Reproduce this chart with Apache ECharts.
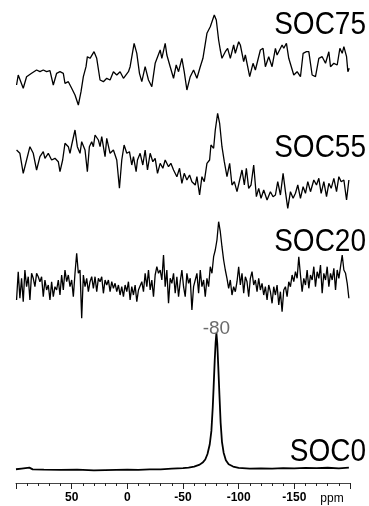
<!DOCTYPE html>
<html>
<head>
<meta charset="utf-8">
<script src="https://cdn.jsdelivr.net/npm/echarts@6/dist/echarts.min.js"></script>
<style>
  html, body { margin: 0; padding: 0; background: #fff; }
  #chart { width: 369px; height: 506px; }
</style>
</head>
<body>
<div id="chart"></div>
<script>
// spectra: [ppm, intensity (a.u.)]
const soc75 = [[99.5,25],[98,35],[93.5,21.7],[90.5,33.3],[86,36.7],[81.5,40],[78.5,38.3],[75.5,40],[72.5,38.3],[69.5,39.3],
  [66.5,25],[63.5,36.7],[60.5,38.3],[57.5,36.7],[56,26.7],[53,28.3],[50,21.7],[47,15],[44,5],[41.6,18.3],
  [39.5,33.3],[37.1,43.3],[35.9,53.3],[33.5,51.7],[29.9,58.3],[27.5,51.7],[24.5,30],[21.5,28.3],[18.5,31.7],[15.5,30],
  [12.5,38.3],[9.5,35],[6.5,38.3],[3.5,31.7],[-1,38.3],[-2.5,43.3],[-6.1,66.7],[-8.5,56.7],[-10.9,36.7],[-13,28.3],
  [-16,43.3],[-19,30],[-22,23.3],[-25,46.7],[-29.5,60],[-31,51.7],[-34,66.7],[-35.5,55],[-38.5,43.3],[-41.5,31.7],
  [-43.9,45],[-46,38.3],[-49,51.7],[-51.1,38.3],[-53.5,20],[-56.5,33.3],[-59.5,40],[-62.5,31.7],[-65.5,43.3],[-67.9,51.7],
  [-69.1,50],[-71.5,76.7],[-74.5,83.3],[-78.1,95],[-79.9,90],[-82,70],[-83.5,60],[-85,51.7],[-88,58.3],[-90.1,61.7],
  [-92.5,51.7],[-95.5,65],[-97,56.7],[-100,68.3],[-101.5,65],[-104.5,48.3],[-106,55],[-108.1,43.3],[-109.9,33.3],[-112.9,46.7],
  [-115,40],[-119.5,60],[-121.9,61.7],[-124,43.3],[-127,53.3],[-130,43.3],[-133,61.7],[-134.5,55],[-139,65],[-140.5,61.7],
  [-142.9,66.7],[-145,51.7],[-149.5,35],[-152.5,38.3],[-155.5,33.3],[-157.9,56.7],[-160.9,58.3],[-163,58.3],[-166,35],[-169,33.3],
  [-172,51.7],[-175,53.3],[-178,46.7],[-181,58.3],[-182.5,43.3],[-185.5,46.7],[-188.5,45],[-190.9,61.7],[-193,56.7],[-194.5,63.3],
  [-196.9,53.3],[-198.1,38.3],[-199.3,41.7]];

const soc55 = [[99.5,70],[96.5,66.7],[93.5,46.7],[90.5,60],[87.5,73.3],[84.5,66.7],[81.5,50],[78.5,63.3],[75.5,68.3],[74,61.7],
  [71,66.7],[68,60],[65,61.7],[62,58.3],[60.5,48.3],[58.1,60],[56,76.7],[53,73.3],[51.5,66.7],[50,75],
  [47,90],[44.9,73.3],[42.5,66.7],[41,78.3],[38,70],[35.9,48.3],[34.1,73.3],[32,78.3],[30.5,73.3],[29,85],
  [26,80],[24.5,73.3],[23,83.3],[20,63.3],[18.5,81.7],[15.5,66.7],[12.5,70],[9.5,60],[7.1,31.7],[5,60],
  [2.9,75],[0.5,66.7],[-1.9,68.3],[-4,55],[-5.5,63.3],[-7.9,48.3],[-9.1,60],[-11.5,66.7],[-13.9,55],[-16,70],
  [-18.1,50],[-20.5,66.7],[-22.9,58.3],[-25,61.7],[-27.1,46.7],[-29.5,56.7],[-31.9,51.7],[-34,60],[-37,53.3],[-39.1,56.7],
  [-41.5,50],[-44.5,43.3],[-46.9,51.7],[-49,36.7],[-51.1,46.7],[-53.5,40],[-55.9,45],[-58,38.3],[-61,35],[-62.5,43.3],
  [-64.9,25],[-67,43.3],[-69.1,38.3],[-71.5,56.7],[-73.9,60],[-75.1,75],[-77.5,71.7],[-79,90],[-81.1,106.7],[-82.9,96.7],
  [-85,73.3],[-87.1,58.3],[-89.5,43.3],[-91.9,56.7],[-94,35],[-96.1,38.3],[-98.5,28.3],[-100.9,40],[-103,50],[-105.1,35],
  [-106.9,51.7],[-109,31.7],[-111.1,35],[-113.5,55],[-115.9,23.3],[-118,31.7],[-120.1,21.7],[-122.5,30],[-125.5,20],[-128.5,28.3],
  [-130.9,23.3],[-133,25],[-135.1,38.3],[-137.5,25],[-139.9,46.7],[-142,28.3],[-144.1,11.7],[-146.5,28.3],[-148.9,21.7],[-151,26.7],
  [-153.1,35],[-155.5,21.7],[-157.9,33.3],[-160,26.7],[-162.1,38.3],[-164.5,28.3],[-167.5,40],[-169.9,35],[-172,41.7],[-174.1,26.7],
  [-176.5,38.3],[-178.9,23.3],[-181,36.7],[-183.1,31.7],[-185.5,41.7],[-187.9,28.3],[-190,43.3],[-192.1,38.3],[-194.5,40],[-196.9,20],
  [-199,40]];

const soc20 = [[99.5,30],[98,58.3],[96.5,31.7],[95,51.7],[93.5,28.3],[92,60],[90.5,43.3],[89,53.3],[87.5,30],[86,56.7],
  [84.5,51.7],[83,43.3],[81.5,56.7],[80,53.3],[78.5,48.3],[77,53.3],[75.5,33.3],[74,50],[72.5,40],[71,45],
  [69.5,30],[68,48.3],[66.5,33.3],[65,43.3],[63.5,40],[62,50],[60.5,35],[59,55],[57.5,40],[56,60],
  [54.5,48.3],[53,55],[51.5,43.3],[50,50],[48.5,33.3],[47,56.7],[45.5,76.7],[44,56.7],[42.5,60],[41,11.7],
  [39.5,55],[38,43.3],[36.5,51.7],[35,38.3],[33.5,48.3],[32,53.3],[30.5,41.7],[29,53.3],[27.5,38.3],[26,51.7],
  [24.5,48.3],[23,53.3],[21.5,36.7],[20,50],[18.5,45],[17,50],[15.5,38.3],[14,48.3],[12.5,41.7],[11,46.7],
  [9.5,38.3],[8,45],[6.5,35],[5,43.3],[3.5,33.3],[2,45],[0.5,38.3],[-1,48.3],[-2.5,30],[-4,43.3],
  [-5.5,35],[-7,45],[-8.5,28.3],[-10,40],[-11.5,38.3],[-13,48.3],[-14.5,38.3],[-16,56.7],[-17.5,43.3],[-19,60],
  [-20.5,40],[-22,50],[-23.5,33.3],[-25,55],[-26.5,63.3],[-28,56.7],[-29.5,60],[-31,50],[-32.5,75],[-34,43.3],
  [-35.5,60],[-37,26.7],[-38.5,51.7],[-40,46.7],[-41.5,56.7],[-43,36.7],[-44.5,53.3],[-46,33.3],[-47.5,48.3],[-49,60],
  [-50.5,43.3],[-52,33.3],[-53.5,56.7],[-55,46.7],[-56.5,51.7],[-58,20],[-59.5,43.3],[-61,50],[-62.5,56.7],[-64,36.7],
  [-65.5,60],[-67,43.3],[-68.5,50],[-70,33.3],[-71.5,51.7],[-73,43.3],[-74.5,63.3],[-76,56.7],[-77.5,73.3],[-79,80],
  [-80.5,90],[-82,108.3],[-83.5,98.3],[-85,83.3],[-86.5,70],[-88,60],[-89.5,51.7],[-91,41.7],[-92.5,50],[-94,35],
  [-95.5,43.3],[-97,38.3],[-98.5,48.3],[-100,63.3],[-101.5,45],[-103,56.7],[-104.5,36.7],[-106,53.3],[-107.5,48.3],[-109,33.3],
  [-110.5,51.7],[-112,58.3],[-113.5,45],[-115,50],[-116.5,38.3],[-118,51.7],[-119.5,40],[-121,46.7],[-122.5,35],[-124,43.3],
  [-125.5,30],[-127,45],[-128.5,38.3],[-130,26.7],[-131.5,43.3],[-133,35],[-134.5,45],[-136,25],[-137.5,38.3],[-139,18.3],
  [-140.5,40],[-142,43.3],[-143.5,33.3],[-145,48.3],[-146.5,43.3],[-148,55],[-149.5,48.3],[-151,58.3],[-152.5,51.7],[-154,73.3],
  [-155.5,55],[-157,38.3],[-158.5,51.7],[-160,45],[-161.5,60],[-163,41.7],[-164.5,55],[-166,50],[-167.5,63.3],[-169,43.3],
  [-170.5,58.3],[-172,51.7],[-173.5,65],[-175,36.7],[-176.5,56.7],[-178,50],[-179.5,63.3],[-181,43.3],[-182.5,56.7],[-184,50],
  [-185.5,61.7],[-187,40],[-188.5,60],[-190,51.7],[-191.5,63.3],[-193,75],[-194.5,60],[-196,56.7],[-197.5,46.7],[-199,31.7]];

const soc0 = [[100,-0.2],[95,0.3],[88,1.0],[85,-0.3],[75,-0.5],[60,-0.7],[45,-0.5],[30,-1.0],[20,-0.8],[10,-0.6],
  [0,-0.4],[-10,-0.6],[-20,-0.3],[-30,-0.3],[-40,0.2],[-50,0.6],[-55,1.0],[-60,1.8],[-65,3.2],[-68,5],
  [-70,7],[-72,11],[-74,18],[-75.5,28],[-76.7,45],[-77.5,60],[-78.5,80],[-79.3,93],[-80,100],[-80.8,92],
  [-81.7,75],[-82.7,55],[-83.8,34],[-85,20],[-86.5,12],[-88.5,6.5],[-91,3.5],[-95,1.8],[-100,0.8],[-110,0.2],
  [-120,0.5],[-130,0.2],[-140,0.7],[-150,0.4],[-160,0.8],[-170,0.6],[-180,0.9],[-190,0.5],[-199,1.0]];

const traceNames = ['SOC75', 'SOC55', 'SOC20', 'SOC0'];
const ppmMin = -200, ppmMax = 100, ppmStep = 50;

// layout of the stacked panels (top to bottom)
const panels = [
  { data: soc75, top: 0,   height: 110, yMin: 0,     yMax: 110, nameY: 25 },
  { data: soc55, top: 110, height: 110, yMin: 0,     yMax: 110, nameY: 148 },
  { data: soc20, top: 220, height: 110, yMin: 0,     yMax: 110, nameY: 242 },
  { data: soc0,  top: 333, height: 150, yMin: -10.3, yMax: 100, nameY: 452 }
];

const font = '"Liberation Sans", Arial, Helvetica, sans-serif';

// peak of the bottom trace, labelled with its shift
const peak = soc0.reduce((a, b) => (b[1] > a[1] ? b : a));

const chart = echarts.init(document.getElementById('chart'));

const last = panels.length - 1;
const option = {
  animation: false,
  backgroundColor: '#fff',
  grid: panels.map(p => ({ left: 16, right: 19, top: p.top, height: p.height })),
  xAxis: panels.map((p, i) => ({
    gridIndex: i,
    type: 'value',
    min: ppmMin,
    max: ppmMax,
    interval: ppmStep,
    inverse: true,
    show: i === last,
    splitLine: { show: false },
    axisLine: { show: true, onZero: false, lineStyle: { color: '#444', width: 1 } },
    axisTick: { show: true, length: 6, lineStyle: { color: '#222' } },
    minorTick: { show: true, splitNumber: 5, length: 3, lineStyle: { color: '#222' } },
    axisLabel: {
      margin: 9,
      fontFamily: font,
      fontSize: 12,
      fontWeight: 'bold',
      color: '#000',
      formatter: v => (v === ppmMin || v === ppmMax) ? '' : String(v)
    }
  })),
  yAxis: panels.map((p, i) => ({
    gridIndex: i,
    type: 'value',
    min: p.yMin,
    max: p.yMax,
    show: false
  })),
  series: panels.map((p, i) => ({
    type: 'line',
    name: traceNames[i],
    xAxisIndex: i,
    yAxisIndex: i,
    data: p.data,
    showSymbol: false,
    symbol: 'none',
    clip: false,
    lineStyle: { color: '#000', width: i === last ? 1.8 : 1.3 },
    markPoint: i === last ? {
      symbol: 'circle',
      symbolSize: 1,
      itemStyle: { color: 'rgba(0,0,0,0)' },
      label: {
        show: true,
        position: 'inside',
        offset: [0, -4],
        fontFamily: font,
        fontSize: 19,
        color: '#6b6b6b',
        formatter: prm => String(Math.round(prm.data.coord[0]))
      },
      data: [{ coord: peak }]
    } : undefined
  })),
  graphic: panels.map((p, i) => ({
    type: 'text',
    x: 366,
    y: p.nameY,
    scaleY: 1.15,
    z: 100,
    style: {
      text: traceNames[i],
      font: '28px ' + font,
      fill: '#000',
      align: 'right',
      verticalAlign: 'middle'
    }
  })).concat([{
    type: 'text',
    x: 332,
    y: 499,
    style: {
      text: 'ppm',
      font: '12px ' + font,
      fill: '#000',
      align: 'center',
      verticalAlign: 'middle'
    }
  }])
};

chart.setOption(option);
</script>
</body>
</html>
